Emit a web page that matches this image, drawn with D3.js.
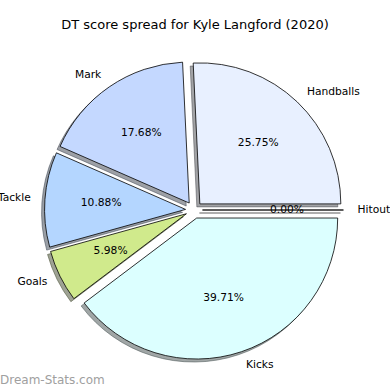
<!DOCTYPE html>
<html>
<head>
<meta charset="utf-8">
<script src="https://cdn.jsdelivr.net/npm/d3@7"></script>
<style>
  body { margin: 0; background: #fff; }
  text { font-family: "DejaVu Sans", sans-serif; fill: #000; }
</style>
</head>
<body>
<script>
// slice data, matplotlib order (counter-clockwise from 3 o'clock)
const labels = ["Handballs", "Mark", "Tackle", "Goals", "Kicks", "Hitout"];
const values = [25.75, 17.68, 10.88, 5.98, 39.71, 0.00];
const colors = ["#e8f0ff", "#c4d8ff", "#b4d6ff", "#d0ea8c", "#dcffff", "#f0f0f0"];

const W = 390, H = 390;
const cx = 194, cy = 210, r = 141;
const explode = 0.06;

const svg = d3.select("body").append("svg")
  .attr("width", W).attr("height", H);

svg.append("text")
  .attr("x", W / 2).attr("y", 25)
  .attr("text-anchor", "middle")
  .attr("dominant-baseline", "middle")
  .style("font-size", "13px")
  .text("DT score spread for Kyle Langford (2020)");

const pie = d3.pie()
  .sort(null)
  .value(d => d.v)
  .startAngle(Math.PI / 2)
  .endAngle(Math.PI / 2 - 2 * Math.PI);

const arcs = pie(labels.map((l, i) => ({ l: l, v: values[i], c: colors[i] })));

const arc = d3.arc().innerRadius(0).outerRadius(r);

// unit direction (screen coords) of slice middle
function dir(d) {
  const m = (d.startAngle + d.endAngle) / 2;
  return [Math.sin(m), -Math.cos(m)];
}

const g = svg.append("g").attr("transform", `translate(${cx},${cy})`);

// shadows first
g.selectAll("path.shadow")
  .data(arcs)
  .join("path")
  .attr("class", "shadow")
  .attr("transform", d => {
    const [ux, uy] = dir(d);
    return `translate(${ux * explode * r - 3},${uy * explode * r + 3})`;
  })
  .attr("d", arc)
  .attr("fill", d => { const c = d3.rgb(d.data.c); return d3.rgb(c.r * 0.3, c.g * 0.3, c.b * 0.3); })
  .attr("fill-opacity", 0.5)
  .attr("stroke", d => { const c = d3.rgb(d.data.c); return d3.rgb(c.r * 0.3, c.g * 0.3, c.b * 0.3); })
  .attr("stroke-opacity", 0.5)
  .attr("stroke-width", 1);

const slices = g.selectAll("g.slice")
  .data(arcs)
  .join("g")
  .attr("class", "slice")
  .attr("transform", d => {
    const [ux, uy] = dir(d);
    return `translate(${ux * explode * r},${uy * explode * r})`;
  });

slices.append("path")
  .attr("d", arc)
  .attr("fill", d => d.data.c)
  .attr("stroke", "#000")
  .attr("stroke-width", 0.8)
  .attr("stroke-linejoin", "miter");

slices.append("text")
  .attr("x", d => dir(d)[0] * 1.1 * r)
  .attr("y", d => dir(d)[1] * 1.1 * r)
  .attr("text-anchor", d => dir(d)[0] > 0 ? "start" : "end")
  .attr("dominant-baseline", "middle")
  .style("font-size", "10.7px")
  .text(d => d.data.l);

slices.append("text")
  .attr("x", d => dir(d)[0] * 0.6 * r)
  .attr("y", d => dir(d)[1] * 0.6 * r)
  .attr("text-anchor", "middle")
  .attr("dominant-baseline", "middle")
  .style("font-size", "10.7px")
  .text(d => d.data.v.toFixed(2) + "%");

svg.append("text")
  .attr("x", 0).attr("y", 380)
  .attr("dominant-baseline", "middle")
  .style("font-size", "12px")
  .style("fill", "#a0a0a0")
  .text("Dream-Stats.com");
</script>
</body>
</html>
